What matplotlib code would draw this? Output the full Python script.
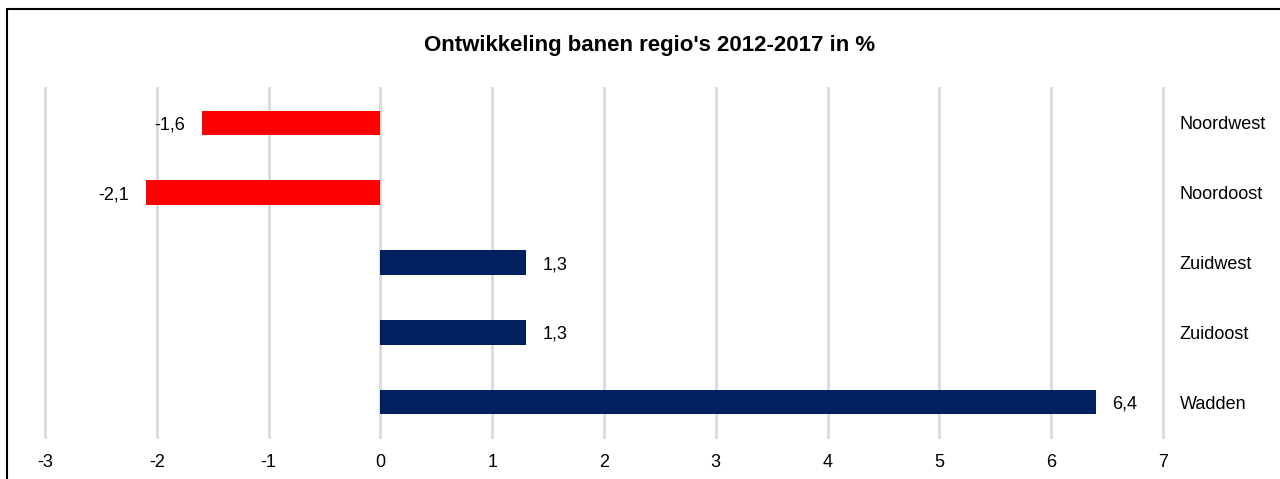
import matplotlib.pyplot as plt
from matplotlib.patches import Rectangle

# Data
regions = ["Noordwest", "Noordoost", "Zuidwest", "Zuidoost", "Wadden"]
values = [-1.6, -2.1, 1.3, 1.3, 6.4]
value_labels = ["-1,6", "-2,1", "1,3", "1,3", "6,4"]
x_ticks = [-3, -2, -1, 0, 1, 2, 3, 4, 5, 6, 7]

title = "Ontwikkeling banen regio's 2012-2017 in %"
red = "#FF0000"
navy = "#002060"

plt.rcParams['font.family'] = ['Liberation Sans', 'DejaVu Sans']

W, H = 1280, 479
fig = plt.figure(figsize=(W / 100, H / 100), dpi=100)
ax = fig.add_axes([45 / W, 42 / H, (1163 - 45) / W, (437 - 88) / H])

colors = [red if v < 0 else navy for v in values]
ypos = list(range(len(regions)))
ax.barh(ypos, values, height=0.35, color=colors, zorder=3)

for y, v, lab in zip(ypos, values, value_labels):
    if v < 0:
        ax.annotate(lab, (v, y), xytext=(-12, 0), textcoords="offset points",
                    ha="right", va="center_baseline", fontsize=13)
    else:
        ax.annotate(lab, (v, y), xytext=(12, 0), textcoords="offset points",
                    ha="left", va="center_baseline", fontsize=13)

ax.set_xlim(-3, 7)
ax.set_ylim(len(regions) - 0.5, -0.5)
ax.set_xticks(x_ticks)
ax.set_xticklabels([str(t) for t in x_ticks], fontsize=13)
ax.set_yticks(ypos)
ax.set_yticklabels(regions, fontsize=13)
ax.yaxis.tick_right()
ax.tick_params(axis="y", length=0, pad=12)
ax.tick_params(axis="x", length=0, pad=12)
for lab in ax.get_yticklabels():
    lab.set_ha("left")
    lab.set_va("center_baseline")

ax.grid(axis="x", color="#D9D9D9", linewidth=2, zorder=0)
for gl in ax.get_xgridlines():
    gl.set_clip_on(False)
ax.set_axisbelow(True)
for sp in ax.spines.values():
    sp.set_visible(False)

fig.text(650 / W, 1 - 45 / H, title, ha="center", va="center",
         fontsize=16, fontweight="bold")

# chart frame
fig.patches.append(Rectangle((7 / W, -0.1), 1.2, 1 - 9 / H + 0.1,
                             transform=fig.transFigure, fill=False,
                             edgecolor="black", linewidth=1.5))

fig.savefig("out.png", dpi=100)
